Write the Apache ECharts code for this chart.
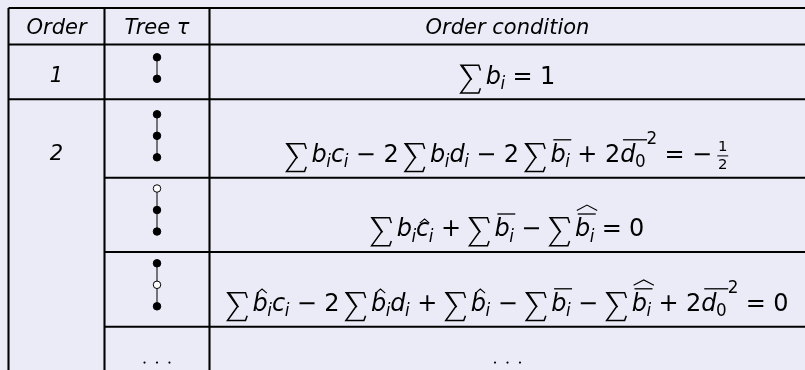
<!DOCTYPE html>
<html>
<head>
<meta charset="utf-8">
<style>
  html, body { margin: 0; padding: 0; background: #ebebf7; }
  #chart { width: 805px; height: 370px; }
</style>
<script src="https://cdn.jsdelivr.net/npm/echarts@6/dist/echarts.min.js"></script>
</head>
<body>
<div id="chart"></div>
<script>
  // table content
  const headers = ['Order', 'Tree τ', 'Order condition']
  const orders = ['1', '2']
  const orderStart = [0, 1] // body row where each order block begins
  // tree nodes from top to bottom: 1 = black vertex, 0 = white vertex, null = more trees
  const trees = [[1, 1], [1, 1, 1], [0, 1, 1], [1, 0, 1], null]
  const conditions = [
    '\\sum b_i = 1',
    '\\sum b_i c_i - 2\\sum b_i d_i - 2\\sum \\bar{b_i} + 2\\bar{d_0}^2 = -\\frac{1}{2}',
    '\\sum b_i \\hat{c}_i + \\sum \\bar{b_i} - \\sum \\widehat{\\bar{b_i}} = 0',
    '\\sum \\hat{b}_i c_i - 2\\sum \\hat{b}_i d_i + \\sum \\hat{b}_i - \\sum \\bar{b_i} - \\sum \\widehat{\\bar{b_i}} + 2\\bar{d_0}^2 = 0',
    '\\dots'
  ]

  // layout of the table (pixels of the 805x370 picture)
  const W = 805, H = 370
  const colEdges = [8.5, 104.5, 209.5, 805.5]
  const rowEdges = [8, 44.5, 99.3, 177.8, 252, 326.8, 400]
  const FONT = '"DejaVu Sans", sans-serif'
  const TEXT_SIZE = 21
  const MATH_SIZE = 24
  const MID = 0.33 // canvas 'middle' baseline above the alphabetic one, in em

  const colCenter = c => (colEdges[c] + colEdges[c + 1]) / 2
  const rowEnd = r => rowEdges[r + 2] // body row r

  // ---------- a very small math typesetter ----------
  const ctx = document.createElement('canvas').getContext('2d')
  function measure(t, size, it) {
    ctx.font = (it ? 'italic ' : '') + size + 'px ' + FONT
    return ctx.measureText(t).width
  }

  function parse(src) {
    let i = 0
    function arg() {
      if (src[i] === '{') {
        i++
        const g = group()
        i++
        return g
      }
      return parse(src[i++])
    }
    function group() {
      const out = []
      while (i < src.length && src[i] !== '}') {
        const c = src[i]
        if (c === ' ') { i++; continue }
        if (c === '\\') {
          const name = /^\\([a-z]+)/.exec(src.slice(i))[1]
          i += name.length + 1
          if (name === 'sum') out.push({ k: 'op' })
          else if (name === 'dots') out.push({ k: 'dots' })
          else if (name === 'frac') out.push({ k: 'frac', a: arg(), b: arg() })
          else out.push({ k: name, body: arg() })
          continue
        }
        if (c === '_' || c === '^') {
          i++
          out[out.length - 1][c === '_' ? 'sub' : 'sup'] = arg()
          continue
        }
        i++
        if (/[a-z]/.test(c)) out.push({ k: 'ord', t: c, it: true })
        else if (/[0-9]/.test(c)) out.push({ k: 'ord', t: c })
        else if (c === '=') out.push({ k: 'rel', t: '=' })
        else if (c === '-') out.push({ k: 'bin', t: '\u2212' })
        else if (c === '+') out.push({ k: 'bin', t: '+' })
      }
      return out
    }
    return group()
  }

  function shift(o, dx, dy) {
    if (o.t === 'line') return { ...o, x1: o.x1 + dx, x2: o.x2 + dx, y1: o.y1 + dy, y2: o.y2 + dy }
    if (o.t === 'poly') return { ...o, pts: o.pts.map(p => [p[0] + dx, p[1] + dy]) }
    return { ...o, x: o.x + dx, y: o.y + dy }
  }

  function gap(prev, cur, s) {
    if (prev === null) return 0
    if (prev === 'rel' || cur === 'rel') return 5.5 * s / 18
    if (prev === 'bin' || cur === 'bin') return 5.6 * s / 18
    if (prev === 'op' || cur === 'op') return 4 * s / 18
    if (prev === 'inner' || cur === 'inner') return 3 * s / 18
    return 0
  }

  function layoutList(nodes, s) {
    let x = 0, h = 0, d = 0, prev = null
    const ops = []
    nodes.forEach(n => {
      let cls = { op: 'op', bin: 'bin', rel: 'rel', frac: 'inner' }[n.k] || 'ord'
      if (cls === 'bin' && (prev === null || prev === 'rel' || prev === 'bin' || prev === 'op')) cls = 'ord'
      x += gap(prev, cls, s)
      const b = layoutAtom(n, s)
      b.ops.forEach(o => ops.push(shift(o, x, 0)))
      x += b.w
      h = Math.max(h, b.h)
      d = Math.max(d, b.d)
      prev = cls
    })
    return { w: x, h, d, ops }
  }

  function layoutAtom(n, s) {
    let box
    if (n.k === 'ord' || n.k === 'bin' || n.k === 'rel') {
      const tall = /[bdfhklit0-9]/.test(n.t)
      box = {
        w: measure(n.t, s, n.it), h: (tall ? 0.76 : 0.56) * s, d: 0,
        ops: [{ t: 'text', x: 0, y: 0, text: n.t, size: s, it: n.it }]
      }
    } else if (n.k === 'op') {
      const w = 0.86 * s, top = -0.84 * s, bot = 0.32 * s, mid = (top + bot) / 2
      box = {
        w, h: -top, d: bot,
        ops: [
          { t: 'poly', lw: 1.5, pts: [[w, top + 0.22 * s], [w - 0.07 * s, top], [0.05 * s, top], [0.46 * s, mid], [0.04 * s, bot], [w - 0.07 * s, bot], [w, bot - 0.2 * s]] },
          { t: 'poly', lw: 1.3, pts: [[0.12 * s, top + 0.02 * s], [0.5 * s, mid + 0.02 * s]] }
        ]
      }
    } else if (n.k === 'bar') {
      const inner = layoutList(n.body, s)
      const y = -Math.max(inner.h + 0.22 * s, 1.0 * s)
      box = {
        w: inner.w, h: -y + 0.05 * s, d: inner.d,
        ops: inner.ops.concat([{ t: 'line', lw: 1.3, x1: 0.12 * s, x2: inner.w + 0.06 * s, y1: y, y2: y }])
      }
    } else if (n.k === 'hat' || n.k === 'widehat') {
      const inner = layoutList(n.body, s)
      const wide = n.k === 'widehat'
      const cx = inner.w / 2 + (wide ? 0.1 : 0.08) * s
      const half = wide ? inner.w / 2 + 0.02 * s : 0.2 * s
      const base = -(inner.h + (wide ? 0.1 : 0.06) * s)
      const apex = base - (wide ? 0.22 : 0.17) * s
      box = {
        w: inner.w, h: -apex, d: inner.d,
        ops: inner.ops.concat([{ t: 'poly', lw: 1.1, pts: [[cx - half, base], [cx, apex], [cx + half, base]] }])
      }
    } else if (n.k === 'frac') {
      const fs = 0.62 * s
      const A = layoutList(n.a, fs), B = layoutList(n.b, fs)
      const w = Math.max(A.w, B.w) + 0.16 * s
      const ly = -0.33 * s
      box = {
        w, h: -ly + 0.14 * s + 0.73 * fs, d: ly + 0.14 * s + 0.73 * fs,
        ops: A.ops.map(o => shift(o, (w - A.w) / 2, ly - 0.14 * s))
          .concat(B.ops.map(o => shift(o, (w - B.w) / 2, ly + 0.14 * s + 0.73 * fs)))
          .concat([{ t: 'line', lw: 1, x1: 0.05 * s, x2: w - 0.05 * s, y1: ly, y2: ly }])
      }
    } else if (n.k === 'dots') {
      const step = 0.52 * s
      box = {
        w: 2 * step, h: 0.1 * s, d: 0,
        ops: [0, 1, 2].map(j => ({ t: 'dot', x: j * step, y: -0.05 * s, r: 1.1 }))
      }
    }
    if (n.sub || n.sup) {
      const bx = box.w
      let extra = 0
      if (n.sup) {
        const sp = layoutList(n.sup, 0.7 * s)
        const up = Math.max(0.42 * s, box.h - 0.27 * s)
        sp.ops.forEach(o => box.ops.push(shift(o, bx + 0.04 * s, -up)))
        extra = Math.max(extra, sp.w + 0.04 * s)
      }
      if (n.sub) {
        const sb = layoutList(n.sub, 0.7 * s)
        sb.ops.forEach(o => box.ops.push(shift(o, bx - 0.02 * s, 0.2 * s)))
        extra = Math.max(extra, sb.w - 0.02 * s)
      }
      box.w = bx + extra
    }
    return box
  }

  function toElement(o, x0, y0) {
    if (o.t === 'text') {
      return {
        type: 'text', silent: true,
        style: {
          text: o.text, x: x0 + o.x, y: y0 + o.y - MID * o.size,
          fontSize: o.size, fontFamily: FONT, fontStyle: o.it ? 'italic' : 'normal',
          fill: '#000', align: 'left', verticalAlign: 'middle',
          textAlign: 'left', textVerticalAlign: 'middle'
        }
      }
    }
    if (o.t === 'line') {
      return {
        type: 'line', silent: true,
        shape: { x1: x0 + o.x1, y1: y0 + o.y1, x2: x0 + o.x2, y2: y0 + o.y2 },
        style: { stroke: '#000', lineWidth: o.lw }
      }
    }
    if (o.t === 'poly') {
      return {
        type: 'polyline', silent: true,
        shape: { points: o.pts.map(p => [x0 + p[0], y0 + p[1]]) },
        style: { stroke: '#000', fill: null, lineWidth: o.lw, lineJoin: 'miter' }
      }
    }
    return {
      type: 'circle', silent: true,
      shape: { cx: x0 + o.x, cy: y0 + o.y, r: o.r },
      style: { fill: '#000' }
    }
  }

  const parsedConditions = conditions.map(parse)

  // ---------- chart data built from the arrays ----------
  const rules = []
  ;[0, 1, 2].forEach(r => rules.push([colEdges[0], rowEdges[r], W + 5, rowEdges[r]]))
  ;[3, 4, 5].forEach(r => rules.push([colEdges[1], rowEdges[r], W + 5, rowEdges[r]]))
  ;[0, 1, 2].forEach(c => rules.push([colEdges[c], rowEdges[0], colEdges[c], H + 5]))

  const nodes = []
  const edges = []
  const treeDots = []
  trees.forEach((t, r) => {
    const x = colCenter(1)
    if (!t) {
      treeDots.push([x, rowEdges[r + 1] + 37, r])
      return
    }
    const bottom = rowEnd(r) - 20.5
    t.forEach((filled, j) => nodes.push([x, bottom - (t.length - 1 - j) * 21.5, filled]))
    edges.push([x, bottom - (t.length - 1) * 21.5, bottom])
  })

  const labels = headers.map((h, c) => [colCenter(c), rowEdges[1] - 9.5, h, TEXT_SIZE])
  orders.forEach((o, k) => labels.push([colCenter(0), rowEnd(orderStart[k]) - 16, o, TEXT_SIZE]))

  const condRows = conditions.map((c, r) => [colCenter(2), r < 4 ? rowEnd(r) - 14 : rowEdges[r + 1] + 37, r])

  const chart = echarts.init(document.getElementById('chart'))
  chart.setOption({
    backgroundColor: '#ebebf7',
    animation: false,
    grid: { left: 0, right: 0, top: 0, bottom: 0 },
    xAxis: { type: 'value', min: 0, max: W, show: false },
    yAxis: { type: 'value', min: 0, max: H, inverse: true, show: false },
    series: [
      {
        name: 'rules',
        type: 'custom',
        silent: true,
        data: rules,
        renderItem(params, api) {
          const a = api.coord([api.value(0), api.value(1)])
          const b = api.coord([api.value(2), api.value(3)])
          return {
            type: 'line',
            shape: { x1: a[0], y1: a[1], x2: b[0], y2: b[1] },
            style: { stroke: '#000', lineWidth: 2.1 }
          }
        }
      },
      {
        name: 'edges',
        type: 'custom',
        silent: true,
        data: edges,
        renderItem(params, api) {
          const a = api.coord([api.value(0), api.value(1)])
          const b = api.coord([api.value(0), api.value(2)])
          return {
            type: 'line',
            shape: { x1: a[0], y1: a[1], x2: b[0], y2: b[1] },
            style: { stroke: '#333', lineWidth: 1.3 }
          }
        }
      },
      {
        name: 'vertices',
        type: 'scatter',
        silent: true,
        symbol: 'circle',
        symbolSize: 7.5,
        data: nodes,
        itemStyle: {
          color: p => (p.data[2] ? '#000' : '#fff'),
          borderColor: '#000',
          borderWidth: 1,
          opacity: 1
        }
      },
      {
        name: 'more trees',
        type: 'custom',
        silent: true,
        data: treeDots,
        renderItem(params, api) {
          const p = api.coord([api.value(0), api.value(1)])
          const box = layoutAtom({ k: 'dots' }, MATH_SIZE)
          return { type: 'group', children: box.ops.map(o => toElement(o, p[0] - box.w / 2, p[1])) }
        }
      },
      {
        name: 'labels',
        type: 'custom',
        silent: true,
        data: labels,
        renderItem(params, api) {
          const p = api.coord([api.value(0), api.value(1)])
          const item = labels[params.dataIndex]
          return {
            type: 'text',
            style: {
              text: item[2], x: p[0], y: p[1] - MID * item[3],
              fontSize: item[3], fontFamily: FONT, fontStyle: 'italic', fill: '#000',
              align: 'center', verticalAlign: 'middle',
              textAlign: 'center', textVerticalAlign: 'middle'
            }
          }
        }
      },
      {
        name: 'conditions',
        type: 'custom',
        silent: true,
        data: condRows,
        renderItem(params, api) {
          const p = api.coord([api.value(0), api.value(1)])
          const box = layoutList(parsedConditions[api.value(2)], MATH_SIZE)
          return { type: 'group', children: box.ops.map(o => toElement(o, p[0] - box.w / 2, p[1])) }
        }
      }
    ]
  })
</script>
</body>
</html>
